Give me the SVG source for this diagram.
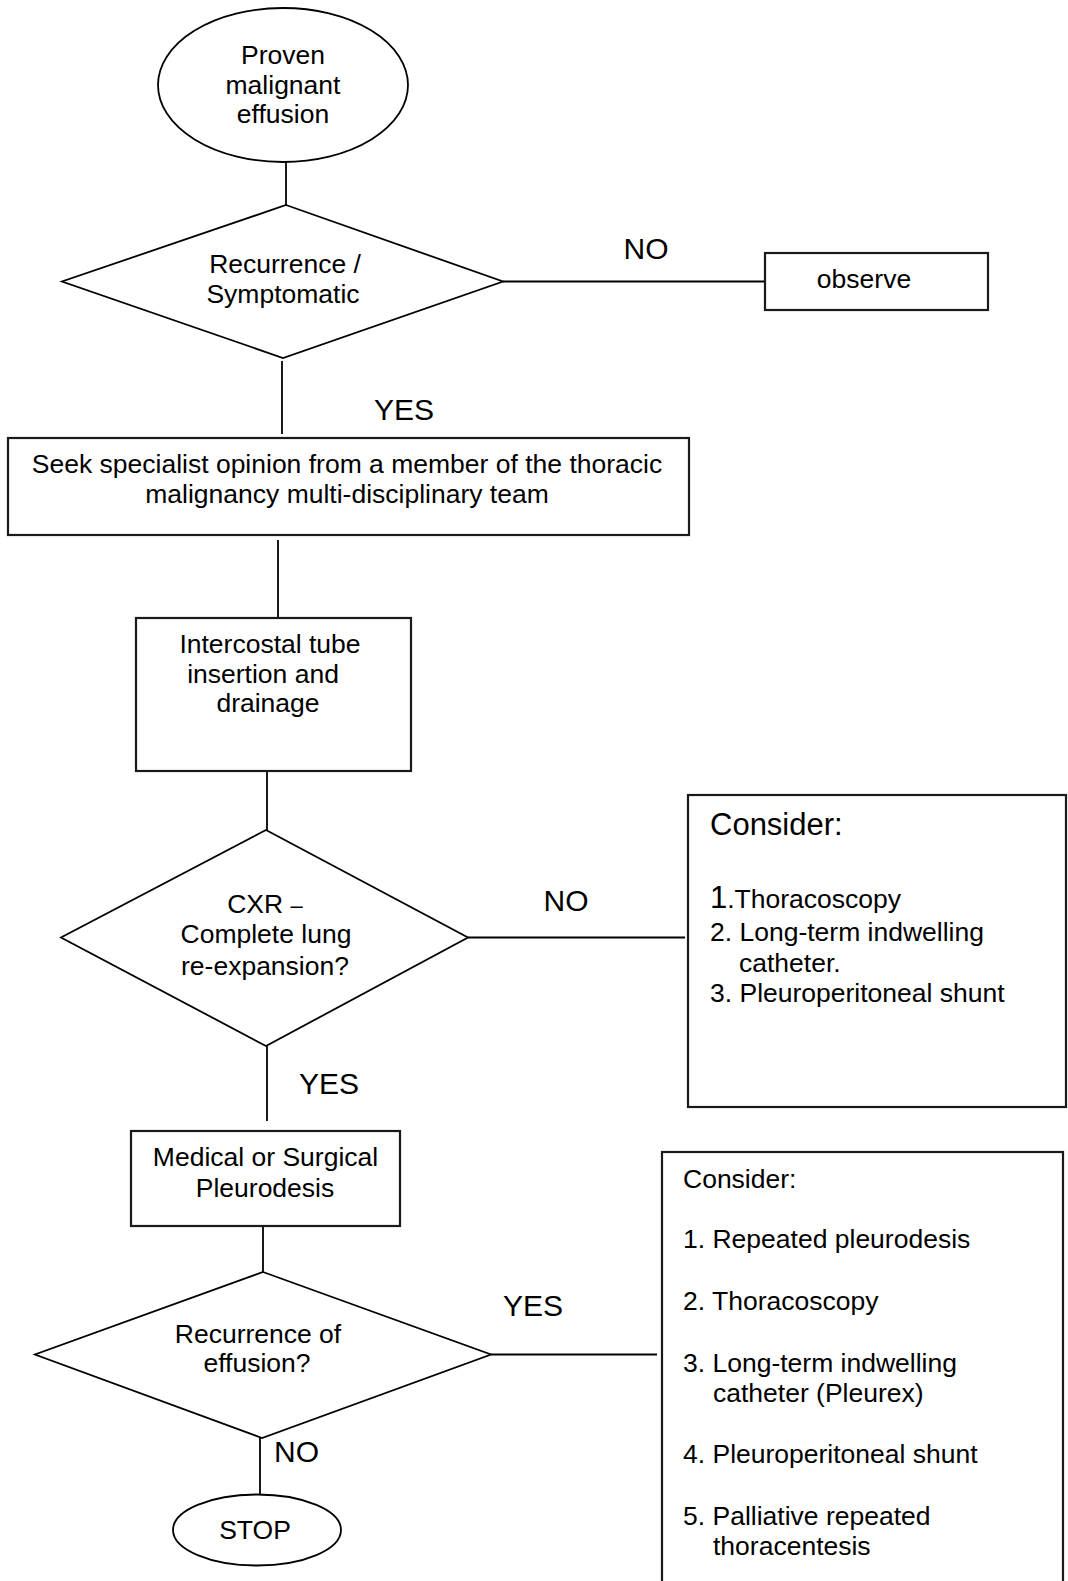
<svg xmlns="http://www.w3.org/2000/svg" width="1068" height="1581" viewBox="0 0 1068 1581">
<style>
  .shape { fill: #ffffff; stroke: #000000; stroke-width: 1.8; }
  .box { fill: #ffffff; stroke: #1a1a1a; stroke-width: 2.2; }
  .conn { stroke: #000000; stroke-width: 1.8; fill: none; }
  text { font-family: "Liberation Sans", Arial, sans-serif; fill: #000000; }
  .t { font-size: 26.5px; }
  .c { text-anchor: middle; }
  .lbl { font-size: 30px; }
  .big { font-size: 31px; }
</style>
<rect width="1068" height="1581" fill="#ffffff"/>

<g id="connectors">
  <line class="conn" x1="286" y1="161" x2="286" y2="212"/>
  <line class="conn" x1="503" y1="281.5" x2="765" y2="281.5"/>
  <line class="conn" x1="282" y1="361" x2="282" y2="434"/>
  <line class="conn" x1="278" y1="540" x2="278" y2="617"/>
  <line class="conn" x1="267" y1="760" x2="267" y2="830"/>
  <line class="conn" x1="468" y1="937.5" x2="685" y2="937.5"/>
  <line class="conn" x1="267" y1="1046" x2="267" y2="1121"/>
  <line class="conn" x1="263" y1="1226" x2="263" y2="1277"/>
  <line class="conn" x1="491" y1="1354.5" x2="657" y2="1354.5"/>
  <line class="conn" x1="260" y1="1438" x2="260" y2="1495"/>
  <text class="lbl c" x="646" y="259">NO</text>
  <text class="lbl c" x="404" y="420">YES</text>
  <text class="lbl c" x="566" y="911">NO</text>
  <text class="lbl c" x="329" y="1094">YES</text>
  <text class="lbl c" x="533" y="1316">YES</text>
  <text class="lbl" x="274" y="1462">NO</text>
</g>

<g id="start">
  <ellipse class="shape" cx="283" cy="85" rx="125" ry="77"/>
  <text class="t c" x="283" y="64">Proven</text>
  <text class="t c" x="283" y="94">malignant</text>
  <text class="t c" x="283" y="123">effusion</text>
</g>

<g id="decision-recurrence">
  <polygon class="shape" points="286,205 503,281.5 283,358 62,281.5"/>
  <text class="t c" x="285" y="273">Recurrence /</text>
  <text class="t c" x="283" y="303">Symptomatic</text>
</g>

<g id="observe">
  <rect class="box" x="765" y="253" width="223" height="57"/>
  <text class="t c" x="864" y="288">observe</text>
</g>

<g id="specialist">
  <rect class="box" x="8" y="438" width="681" height="97"/>
  <text class="t c" x="347" y="473">Seek specialist opinion from a member of the thoracic</text>
  <text class="t c" x="347" y="503">malignancy multi-disciplinary team</text>
</g>

<g id="intercostal">
  <rect class="box" x="136" y="618" width="275" height="153"/>
  <text class="t c" x="270" y="653">Intercostal tube</text>
  <text class="t c" x="263" y="683">insertion and</text>
  <text class="t c" x="268" y="712">drainage</text>
</g>

<g id="decision-cxr">
  <polygon class="shape" points="266,830 468,937.5 266,1046 61,937.5"/>
  <text class="t c" x="265" y="913">CXR <tspan font-size="22">–</tspan></text>
  <text class="t c" x="266" y="943">Complete lung</text>
  <text class="t c" x="265" y="975">re-expansion?</text>
</g>

<g id="consider-1">
  <rect class="box" x="688" y="795" width="378" height="312"/>
  <text class="big" x="710" y="835">Consider:</text>
  <text class="t" x="710" y="908"><tspan font-size="31">1</tspan>.Thoracoscopy</text>
  <text class="t" x="710" y="941">2. Long-term indwelling</text>
  <text class="t" x="739" y="972">catheter.</text>
  <text class="t" x="710" y="1002">3. Pleuroperitoneal shunt</text>
</g>

<g id="pleurodesis">
  <rect class="box" x="131" y="1131" width="269" height="95"/>
  <text class="t c" x="265.5" y="1166">Medical or Surgical</text>
  <text class="t c" x="265" y="1197">Pleurodesis</text>
</g>

<g id="decision-effusion">
  <polygon class="shape" points="263,1272 491,1354.5 262,1438 35,1354.5"/>
  <text class="t c" x="258" y="1343">Recurrence of</text>
  <text class="t c" x="257" y="1372">effusion?</text>
</g>

<g id="stop">
  <ellipse class="shape" cx="257" cy="1530" rx="84" ry="35.5"/>
  <text class="t c" x="255" y="1539">STOP</text>
</g>

<g id="consider-2">
  <rect class="box" x="662" y="1152" width="401" height="460"/>
  <text class="t" x="683" y="1188">Consider:</text>
  <text class="t" x="683" y="1248">1. Repeated pleurodesis</text>
  <text class="t" x="683" y="1310">2. Thoracoscopy</text>
  <text class="t" x="683" y="1372">3. Long-term indwelling</text>
  <text class="t" x="713" y="1402">catheter (Pleurex)</text>
  <text class="t" x="683" y="1463">4. Pleuroperitoneal shunt</text>
  <text class="t" x="683" y="1525">5. Palliative repeated</text>
  <text class="t" x="713" y="1555">thoracentesis</text>
</g>
</svg>
